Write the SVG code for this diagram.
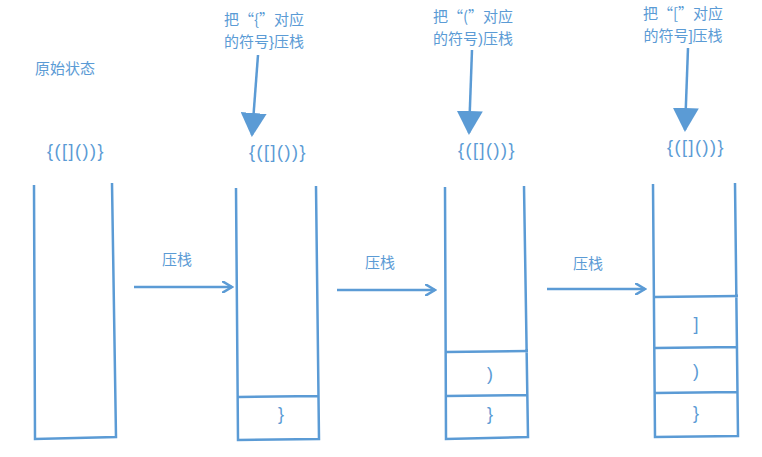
<svg xmlns="http://www.w3.org/2000/svg" width="762" height="457" viewBox="0 0 762 457">
<style>
.l{stroke:#5B9BD5;stroke-width:2.5;fill:none}
.t{font-family:"Liberation Sans","Noto Sans CJK SC",sans-serif;fill:#5B9BD5;font-size:15px;text-anchor:middle}
.c{font-family:"Noto Sans CJK SC",sans-serif}
.b{font-size:18px}
.k{font-size:18px;letter-spacing:1.5px}
</style>
<defs>
<marker id="o" markerWidth="12" markerHeight="12" refX="10" refY="6" orient="auto" markerUnits="userSpaceOnUse" viewBox="0 0 12 12"><path d="M0,0 L10,6 L0,12" class="l" stroke-width="2"/></marker>
<marker id="f" markerWidth="24" markerHeight="26" refX="22" refY="13" orient="auto" markerUnits="userSpaceOnUse" viewBox="0 0 24 26"><path d="M0,0 L24,13 L0,26 Z" fill="#5B9BD5"/></marker>
</defs>
<text class="t" x="65" y="74">原始状态</text>
<g id="s1"><text class="t k" x="76" y="157">{([]())}</text><path class="l" d="M34,185 L35,439 L116,437 L112,183"/></g>
<g id="s2"><text class="t c" x="264" y="25">把“{”对应</text><text class="t" x="264" y="47">的符号}压栈</text><text class="t k" x="278" y="158">{([]())}</text><path class="l" d="M236,188 L238,440 L319,439 L316,186 M238,397 L319,396"/><text class="t b" x="281" y="420">}</text></g>
<g id="s3"><text class="t c" x="473" y="22">把“(”对应</text><text class="t" x="473" y="44">的符号)压栈</text><text class="t k" x="487" y="156">{([]())}</text><path class="l" d="M445,187 L446,439 L528,437 L524,186 M446,352 L528,351 M446,396 L528,395"/><text class="t b" x="490" y="380">)</text><text class="t b" x="490" y="420">}</text></g>
<g id="s4"><text class="t c" x="683" y="19">把“[”对应</text><text class="t" x="683" y="41">的符号]压栈</text><text class="t k" x="696" y="153">{([]())}</text><path class="l" d="M653,184 L655,437 L738,436 L735,183 M655,297 L738,296 M655,348 L738,347 M655,393 L738,392"/><text class="t b" x="696" y="330">]</text><text class="t b" x="696" y="377">)</text><text class="t b" x="696" y="419">}</text></g>
<g id="connectors">
<path class="l" d="M134,287 L232,287" marker-end="url(#o)"/>
<path class="l" d="M337,290 L435,290" marker-end="url(#o)"/>
<path class="l" d="M547,289 L645,289" marker-end="url(#o)"/>
<path class="l" d="M258,55 L252,135" marker-end="url(#f)" stroke-width="3"/>
<path class="l" d="M472,50 L469,133" marker-end="url(#f)" stroke-width="3"/>
<path class="l" d="M688,48 L685,130" marker-end="url(#f)" stroke-width="3"/>
<text class="t" x="177" y="265">压栈</text><text class="t" x="380" y="268">压栈</text><text class="t" x="588" y="269">压栈</text>
</g>
</svg>
